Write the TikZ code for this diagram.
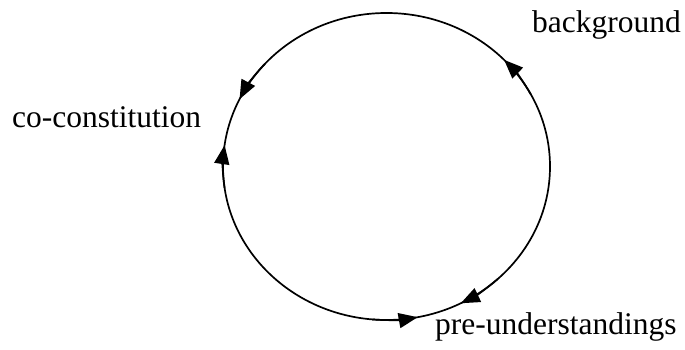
\documentclass[tikz,border=0pt]{standalone}
\usepackage{fontspec}
\setmainfont{Liberation Serif}
\usetikzlibrary{arrows.meta}
\begin{document}
\begin{tikzpicture}[x=1pt,y=1pt,
  ring/.style={line width=1.7pt},
  arr/.style={line width=1.7pt,-{Triangle[length=19pt,width=15pt]}},
  lbl/.style={anchor=base west,inner sep=0pt,font=\fontsize{31.5}{36}\selectfont}]
\useasboundingbox (0,0) rectangle (685,350);
\coordinate (c) at (386.5,183.5);
\draw[ring] (c) ellipse [x radius=163.5, y radius=153.5];
% arrowheads (tip angle, direction)
\draw[arr] (c) ++(28:163.5 and 153.5) arc[start angle=28, end angle=44, x radius=163.5, y radius=153.5];
\draw[arr] (c) ++(138:163.5 and 153.5) arc[start angle=138, end angle=154, x radius=163.5, y radius=153.5];
\draw[arr] (c) ++(188:163.5 and 153.5) arc[start angle=188, end angle=172, x radius=163.5, y radius=153.5];
\draw[arr] (c) ++(265:163.5 and 153.5) arc[start angle=265, end angle=281, x radius=163.5, y radius=153.5];
\draw[arr] (c) ++(313:163.5 and 153.5) arc[start angle=313, end angle=297, x radius=163.5, y radius=153.5];
\node[lbl] (bg) at (532,317) {background};
\node[lbl] (cc) at (12,222) {co-constitution};
\node[lbl] (pu) at (435,15) {pre-understandings};
\end{tikzpicture}
\end{document}
